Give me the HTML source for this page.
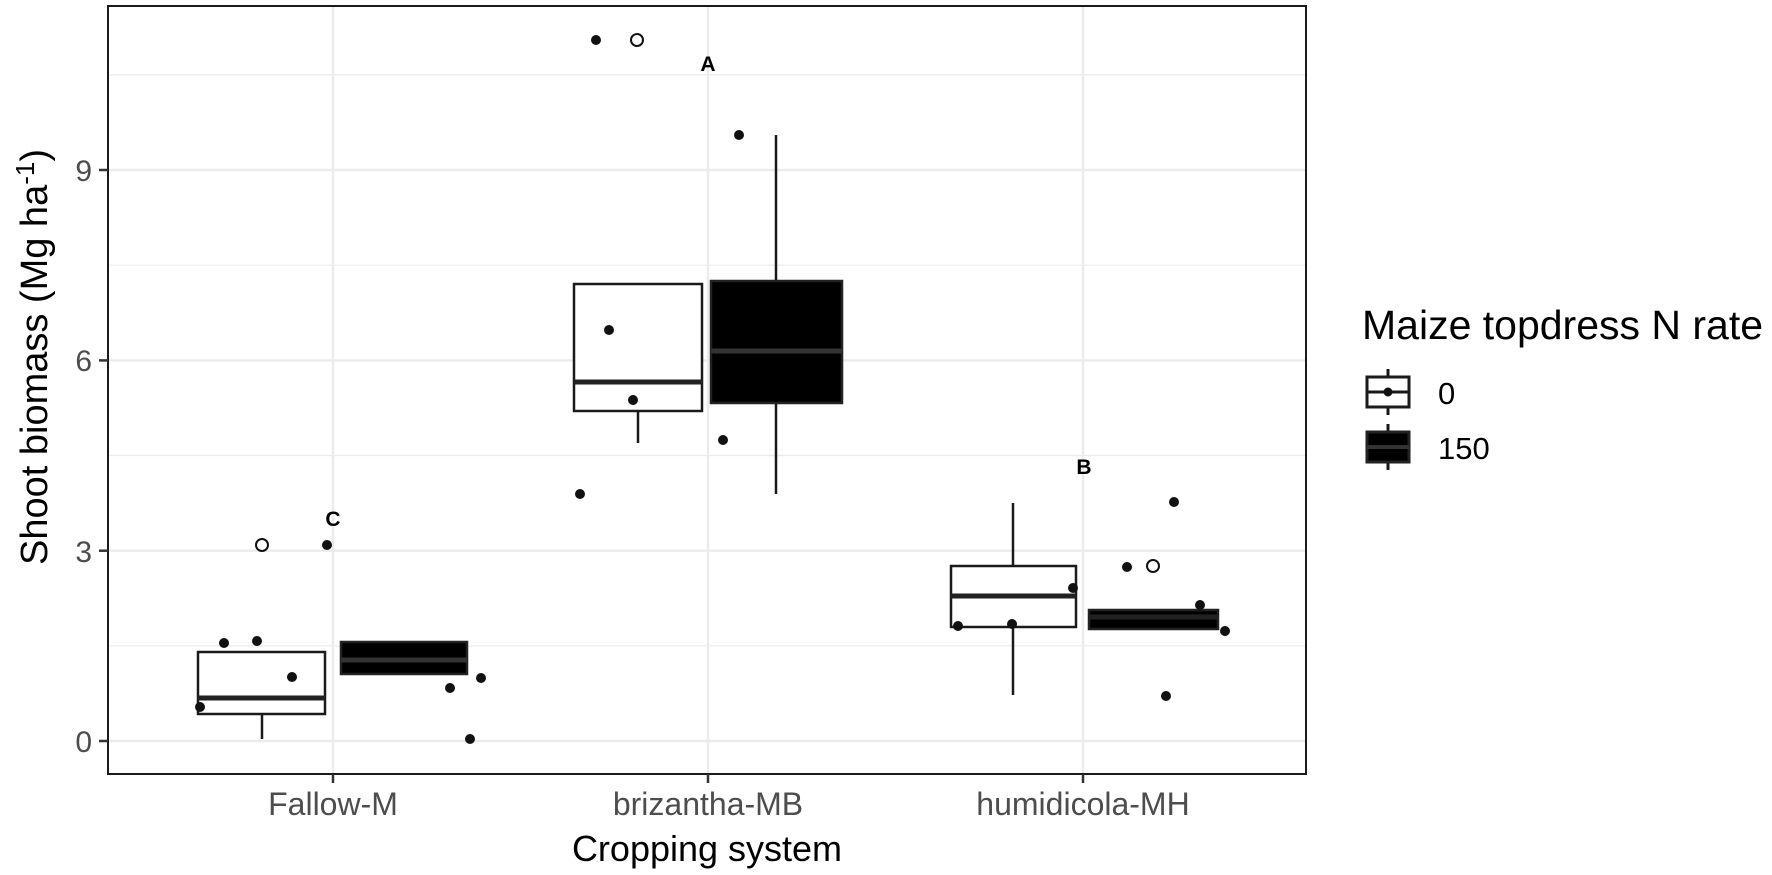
<!DOCTYPE html>
<html><head><meta charset="utf-8"><style>body{margin:0;background:#fff}svg{display:block}</style></head><body>
<svg width="1772" height="875" xmlns="http://www.w3.org/2000/svg" font-family="Liberation Sans, Arial, sans-serif">
<rect width="1772" height="875" fill="#fff"/>
<g stroke="#ebebeb">
<line x1="108" x2="1306" y1="645.8" y2="645.8" stroke-width="1.2"/>
<line x1="108" x2="1306" y1="455.5" y2="455.5" stroke-width="1.2"/>
<line x1="108" x2="1306" y1="265.2" y2="265.2" stroke-width="1.2"/>
<line x1="108" x2="1306" y1="74.9" y2="74.9" stroke-width="1.2"/>
<line x1="108" x2="1306" y1="741" y2="741" stroke-width="2.4"/>
<line x1="108" x2="1306" y1="550.7" y2="550.7" stroke-width="2.4"/>
<line x1="108" x2="1306" y1="360.4" y2="360.4" stroke-width="2.4"/>
<line x1="108" x2="1306" y1="170" y2="170" stroke-width="2.4"/>
<line x1="333" x2="333" y1="6" y2="774" stroke-width="2.4"/>
<line x1="708" x2="708" y1="6" y2="774" stroke-width="2.4"/>
<line x1="1083" x2="1083" y1="6" y2="774" stroke-width="2.4"/>
</g>
<g stroke="#1a1a1a" stroke-width="2.5">
<line x1="262" x2="262" y1="714" y2="739"/>
<rect x="198" y="652" width="127" height="62" fill="#fff"/>
<line x1="198" x2="325" y1="698" y2="698" stroke-width="5" stroke="#222"/>
<rect x="341" y="642" width="126" height="32" fill="#000" stroke="#222"/>
<line x1="341" x2="467" y1="660" y2="660" stroke-width="5" stroke="#333"/>
<line x1="638" x2="638" y1="411" y2="443"/>
<rect x="574" y="284" width="128" height="127" fill="#fff"/>
<line x1="574" x2="702" y1="382" y2="382" stroke-width="5" stroke="#222"/>
<line x1="776" x2="776" y1="135" y2="281"/>
<line x1="776" x2="776" y1="403" y2="494"/>
<rect x="711" y="281" width="131" height="122" fill="#000" stroke="#222"/>
<line x1="711" x2="842" y1="351" y2="351" stroke-width="5" stroke="#333"/>
<line x1="1013" x2="1013" y1="503" y2="566"/>
<line x1="1013" x2="1013" y1="627" y2="695"/>
<rect x="951" y="566" width="125" height="61" fill="#fff"/>
<line x1="951" x2="1076" y1="596" y2="596" stroke-width="5" stroke="#222"/>
<rect x="1089" y="610" width="129" height="19" fill="#000" stroke="#222"/>
<line x1="1089" x2="1218" y1="617" y2="617" stroke-width="5" stroke="#222"/>
</g>
<g fill="#111">
<circle cx="200" cy="707" r="5"/><circle cx="224" cy="643" r="5"/><circle cx="257" cy="641" r="5"/><circle cx="292" cy="677" r="5"/><circle cx="327" cy="545" r="5"/>
<circle cx="450" cy="688" r="5"/><circle cx="481" cy="678" r="5"/><circle cx="470" cy="739" r="5"/>
<circle cx="596" cy="40" r="5"/><circle cx="739" cy="135" r="5"/><circle cx="609" cy="330" r="5"/><circle cx="633" cy="400" r="5"/><circle cx="580" cy="494" r="5"/><circle cx="723" cy="440" r="5"/>
<circle cx="958" cy="626" r="5"/><circle cx="1012" cy="624" r="5"/><circle cx="1073" cy="588" r="5"/><circle cx="1127" cy="567" r="5"/><circle cx="1174" cy="502" r="5"/><circle cx="1200" cy="605" r="5"/><circle cx="1225" cy="631" r="5"/><circle cx="1166" cy="696" r="5"/>
</g>
<g fill="#fff" stroke="#111" stroke-width="2">
<circle cx="262" cy="545" r="6"/><circle cx="637" cy="40" r="6"/><circle cx="1153" cy="566" r="6"/>
</g>
<g font-weight="bold" font-size="21" text-anchor="middle" fill="#000">
<text x="333" y="526">C</text><text x="708" y="71">A</text><text x="1084" y="474">B</text>
</g>
<rect x="108" y="6" width="1198" height="768" fill="none" stroke="#1a1a1a" stroke-width="2"/>
<g stroke="#333" stroke-width="2.5">
<line x1="99" x2="108" y1="741" y2="741"/><line x1="99" x2="108" y1="550.7" y2="550.7"/><line x1="99" x2="108" y1="360.4" y2="360.4"/><line x1="99" x2="108" y1="170" y2="170"/>
<line x1="333" x2="333" y1="774" y2="783"/><line x1="708" x2="708" y1="774" y2="783"/><line x1="1083" x2="1083" y1="774" y2="783"/>
</g>
<g font-size="30" fill="#4d4d4d" text-anchor="end">
<text x="92" y="752">0</text><text x="92" y="562">3</text><text x="92" y="371">6</text><text x="92" y="181">9</text>
</g>
<g font-size="32" fill="#4d4d4d" text-anchor="middle">
<text x="333" y="815">Fallow-M</text><text x="708" y="815">brizantha-MB</text><text x="1083" y="815">humidicola-MH</text>
</g>
<text x="707" y="861" font-size="36" text-anchor="middle" fill="#000">Cropping system</text>
<text transform="translate(47,357) rotate(-90)" font-size="38" text-anchor="middle" fill="#000">Shoot biomass (Mg ha<tspan dy="-13" font-size="26">-1</tspan><tspan dy="13">)</tspan></text>
<text x="1362" y="339" font-size="41" fill="#000">Maize topdress N rate</text>
<g stroke="#1a1a1a" stroke-width="3">
<line x1="1388" x2="1388" y1="369" y2="415"/>
<rect x="1367" y="377" width="42" height="30" fill="#fff"/>
<line x1="1367" x2="1409" y1="392" y2="392"/>
<circle cx="1388" cy="392" r="4.5" fill="#111" stroke="none"/>
<line x1="1388" x2="1388" y1="424" y2="470"/>
<rect x="1367" y="432" width="42" height="30" fill="#000" stroke="#222"/>
<line x1="1367" x2="1409" y1="447" y2="447" stroke="#333" stroke-width="4"/>
</g>
<g font-size="31" fill="#000">
<text x="1438" y="404">0</text><text x="1438" y="459">150</text>
</g>
</svg>
</body></html>
